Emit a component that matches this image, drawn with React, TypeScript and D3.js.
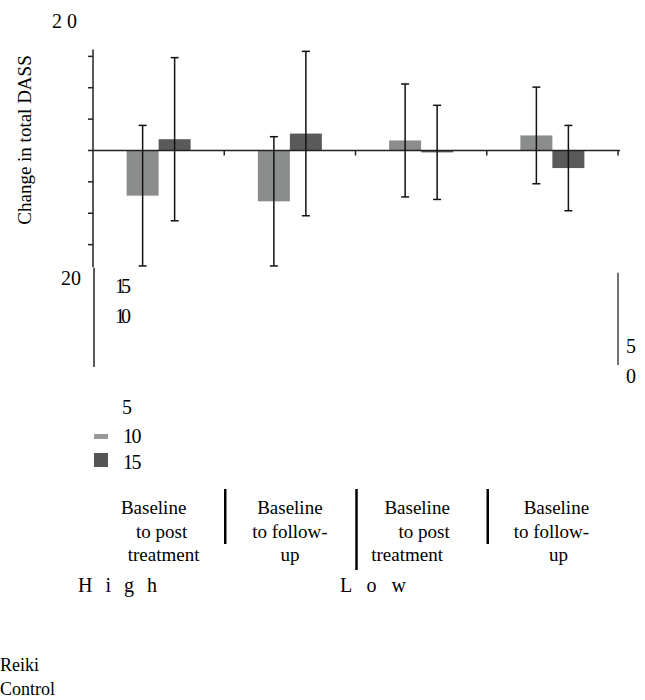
import * as d3 from "d3";

// groups along the x axis (two per severity level)
const groups = ["High-post", "High-follow", "Low-post", "Low-follow"];
const groupLabels = [
  ["Baseline", "to post", "treatment"],
  ["Baseline", "to follow-", "up"],
  ["Baseline", "to post", "treatment"],
  ["Baseline", "to follow-", "up"],
];
const levels = ["High", "Low"];
const series = ["Reiki", "Control"];

// mean change in total DASS, and error bar half-lengths
const reikiMean = [-7.2, -8.1, 1.6, 2.4];
const reikiErr = [11.2, 10.3, 9.0, 7.7];
const controlMean = [1.8, 2.7, -0.3, -2.8];
const controlErr = [13.0, 13.1, 7.5, 6.8];

const yTicks = [-15, -10, -5, 0, 5, 10, 15];

const W = 645;
const H = 700;
const FONT = "Liberation Serif, Tinos, DejaVu Serif, serif";
const colors = { Reiki: "#8b8d8d", Control: "#5a5a5a" };

// small per-line nudges of the category labels (as in the source layout)
const lineShift = [
  [-5, 3, 5],
  [0, 0, 0],
  [-4, 3, -14],
  [4, -1, 6],
];

export default function App() {
  const x = d3.scaleBand().domain(groups).range([93, 618]).padding(0);
  const xs = d3
    .scaleBand()
    .domain(series)
    .range([x.bandwidth() / 2 - 32, x.bandwidth() / 2 + 32])
    .padding(0);
  const y = d3.scaleLinear().domain([-20, 20]).range([276, 25]);

  const rows = groups.flatMap((g, i) => [
    { g, s: "Reiki", m: reikiMean[i], e: reikiErr[i] },
    { g, s: "Control", m: controlMean[i], e: controlErr[i] },
  ]);

  const x0 = x.range()[0];
  const x1 = x.range()[1];
  const txt = { fontFamily: FONT };

  return (
    <svg
      width={W}
      height={H}
      style={{ position: "absolute", left: 0, top: 0, fontFamily: FONT }}
    >
      {/* y axis label */}
      <text
        transform={`translate(31,140) rotate(-90)`}
        textAnchor="middle"
        fontSize={19}
        style={txt}
      >
        Change in total DASS
      </text>

      {/* stray tick labels */}
      <text x={52} y={28} fontSize={20} style={txt}>
        2 0
      </text>
      <text x={61} y={285} fontSize={20} style={txt}>
        20
      </text>
      <text x={115} y={293} fontSize={20} letterSpacing={-4} style={txt}>
        15
      </text>
      <text x={115} y={323} fontSize={20} letterSpacing={-4} style={txt}>
        10
      </text>
      <text x={122} y={414} fontSize={20} style={txt}>
        5
      </text>
      <text x={626} y={353} fontSize={20} style={txt}>
        5
      </text>
      <text x={626} y={383} fontSize={20} style={txt}>
        0
      </text>

      {/* y axis */}
      <line x1={x0} x2={x0} y1={y(16.1)} y2={y(-18.6)} stroke="#222" strokeWidth={1.5} />
      <line x1={x0 + 1} x2={x0 + 1} y1={y(-18.7)} y2={y(-34.5)} stroke="#222" strokeWidth={1.5} />
      <line x1={x1} x2={x1} y1={y(-19.5)} y2={y(-34.2)} stroke="#444" strokeWidth={1.5} />
      {yTicks.map((t) => (
        <line key={t} x1={x0 - 5} x2={x0} y1={y(t)} y2={y(t)} stroke="#222" strokeWidth={1.5} />
      ))}

      {/* bars */}
      {rows.map((r, i) => {
        const bx = (x(r.g) as number) + (xs(r.s) as number);
        return (
          <rect
            key={i}
            x={bx}
            y={y(Math.max(0, r.m))}
            width={xs.bandwidth()}
            height={Math.abs(y(r.m) - y(0))}
            fill={colors[r.s as "Reiki" | "Control"]}
          />
        );
      })}

      {/* zero line and group ticks */}
      <line x1={x0} x2={x1 + 2} y1={y(0)} y2={y(0)} stroke="#222" strokeWidth={1.5} />
      {groups.map((g) => {
        const tx = (x(g) as number) + x.bandwidth();
        return <line key={g} x1={tx} x2={tx} y1={y(0)} y2={y(0) + 5} stroke="#222" strokeWidth={1.5} />;
      })}

      {/* error bars */}
      {rows.map((r, i) => {
        const cx = (x(r.g) as number) + (xs(r.s) as number) + xs.bandwidth() / 2;
        const top = y(r.m + r.e);
        const bot = y(r.m - r.e);
        return (
          <g key={i} stroke="#111" strokeWidth={1.5}>
            <line x1={cx} x2={cx} y1={top} y2={bot} />
            <line x1={cx - 4} x2={cx + 4} y1={top} y2={top} />
            <line x1={cx - 4} x2={cx + 4} y1={bot} y2={bot} />
          </g>
        );
      })}

      {/* legend */}
      <rect x={94} y={434} width={14} height={5} fill="#999" />
      <rect x={94} y={453} width={14} height={14} fill="#555" />
      <text x={123} y={443} fontSize={20} letterSpacing={-1.5} style={txt}>
        10
      </text>
      <text x={123} y={469} fontSize={20} letterSpacing={-1.5} style={txt}>
        15
      </text>

      {/* category labels */}
      {groups.map((g, i) => {
        const cx = (x(g) as number) + x.bandwidth() / 2;
        return (
          <text key={g} textAnchor="middle" fontSize={19} style={txt}>
            {groupLabels[i].map((ln, j) => (
              <tspan key={j} x={cx + lineShift[i][j]} y={514 + j * 23.5}>
                {ln}
              </tspan>
            ))}
          </text>
        );
      })}
      {groups.slice(1).map((g, i) => {
        const dx = x(g) as number;
        return (
          <line
            key={g}
            x1={dx + 1}
            x2={dx + 1}
            y1={489}
            y2={i === 1 ? 570 : 544}
            stroke="#000"
            strokeWidth={2.5}
          />
        );
      })}
      <text x={78} y={592} fontSize={20} letterSpacing={4} style={txt}>
        {levels[0].split("").join(" ")}
      </text>
      <text x={340} y={592} fontSize={20} letterSpacing={5} style={txt}>
        {levels[1].split("").join(" ")}
      </text>

      {/* series names */}
      <text x={0} y={671} fontSize={18} style={txt}>
        {series[0]}
      </text>
      <text x={0} y={695} fontSize={18} style={txt}>
        {series[1]}
      </text>
    </svg>
  );
}
